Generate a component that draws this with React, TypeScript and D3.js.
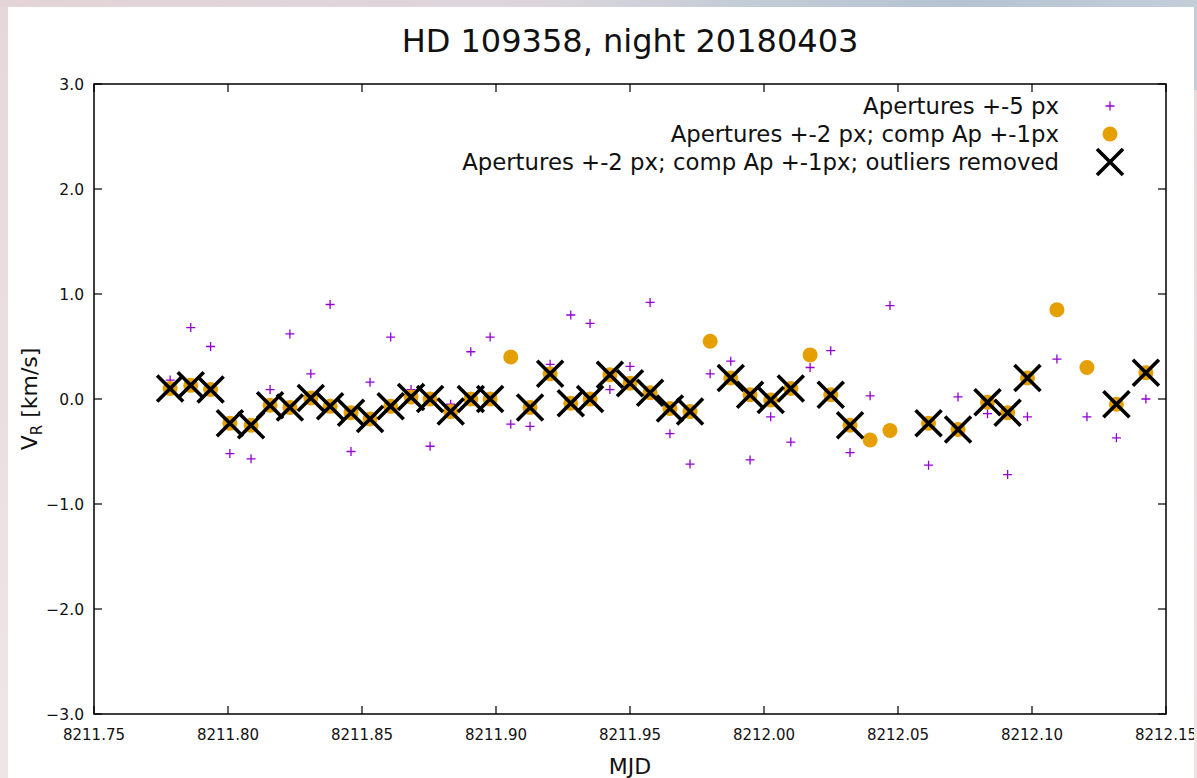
import React from "react";
import * as d3 from "d3";

// ---- data ----
const mjd = [
  8211.7784, 8211.7861, 8211.7935, 8211.8007, 8211.8086, 8211.8157, 8211.8231, 8211.8309,
  8211.8381, 8211.8459, 8211.853, 8211.8607, 8211.8683, 8211.8754, 8211.8831, 8211.8906,
  8211.8978, 8211.9055, 8211.9127, 8211.9202, 8211.9279, 8211.9351, 8211.9425, 8211.95,
  8211.9575, 8211.9649, 8211.9724, 8211.9799, 8211.9876, 8211.9948, 8212.0025, 8212.01,
  8212.0172, 8212.0249, 8212.0321, 8212.0396, 8212.047, 8212.0614, 8212.0724, 8212.0834,
  8212.0909, 8212.0983, 8212.1093, 8212.1205, 8212.1315, 8212.1425,
];

// Apertures +-5 px
const vAp5 = [
  0.18, 0.68, 0.5, -0.52, -0.57, 0.09, 0.62, 0.24, 0.9, -0.5, 0.16, 0.59, 0.09, -0.45, -0.05, 0.45,
  0.59, -0.24, -0.26, 0.33, 0.8, 0.72, 0.09, 0.31, 0.92, -0.33, -0.62, 0.24, 0.36, -0.58, -0.17, -0.41,
  0.3, 0.46, -0.51, 0.03, 0.89, -0.63, 0.02, -0.14, -0.72, -0.17, 0.38, -0.17, -0.37, 0.0,
];

// Apertures +-2 px; comp Ap +-1px
const vAp2 = [
  0.1, 0.13, 0.09, -0.23, -0.25, -0.06, -0.08, 0.01, -0.07, -0.13, -0.19, -0.07, 0.02, 0.0, -0.12, 0.0,
  0.0, 0.4, -0.08, 0.24, -0.04, 0.0, 0.23, 0.15, 0.06, -0.09, -0.12, 0.55, 0.2, 0.04, -0.01, 0.1,
  0.42, 0.04, -0.25, -0.39, -0.3, -0.23, -0.29, -0.03, -0.13, 0.2, 0.85, 0.3, -0.05, 0.25,
];

// indices of points removed as outliers
const outlierIdx = [17, 27, 32, 35, 36, 42, 43];

const xTicks = [8211.75, 8211.8, 8211.85, 8211.9, 8211.95, 8212.0, 8212.05, 8212.1, 8212.15];
const yTicks = [-3, -2, -1, 0, 1, 2, 3];

const legendLabels = [
  "Apertures +-5 px",
  "Apertures +-2 px; comp Ap +-1px",
  "Apertures +-2 px; comp Ap +-1px; outliers removed",
];

const titleText = "HD 109358, night 20180403";

// ---- chart ----
const W = 1197;
const H = 778;
const FONT = "'DejaVu Sans', sans-serif";
const PURPLE = "#9400d3";
const GOLD = "#e69f00";

export default function App() {
  const left = 94, right = 1166, top = 84, bottom = 714;
  const x = d3.scaleLinear().domain([8211.75, 8212.15]).range([left, right]);
  const y = d3.scaleLinear().domain([-3, 3]).range([bottom, top]);
  const tick = 8;

  const clean = mjd
    .map((m, i) => ({ m, v: vAp2[i], i }))
    .filter((d) => !outlierIdx.includes(d.i));

  const plus = (cx: number, cy: number, s: number, key: any) => (
    <path key={key} d={`M${cx - s},${cy}H${cx + s}M${cx},${cy - s}V${cy + s}`} stroke={PURPLE} strokeWidth={1.3} fill="none" />
  );
  const cross = (cx: number, cy: number, s: number, key: any) => (
    <path key={key} d={`M${cx - s},${cy - s}L${cx + s},${cy + s}M${cx - s},${cy + s}L${cx + s},${cy - s}`} stroke="#000" strokeWidth={3.6} fill="none" />
  );

  const legX = 1110;
  const legTextX = 1059;
  const legY = [106, 134, 162];

  return (
    <svg width={W} height={H} style={{ position: "absolute", left: 0, top: 0 }} xmlns="http://www.w3.org/2000/svg">
      <defs>
        <linearGradient id="topbg" x1="0" x2="1" y1="0" y2="0">
          <stop offset="0" stopColor="#e4d4d7" />
          <stop offset="0.45" stopColor="#dcd6dc" />
          <stop offset="0.62" stopColor="#c4ccd6" />
          <stop offset="0.8" stopColor="#b5c3d1" />
          <stop offset="1" stopColor="#c3ced9" />
        </linearGradient>
        <linearGradient id="leftbg" x1="0" x2="0" y1="0" y2="1">
          <stop offset="0" stopColor="#e6d8da" />
          <stop offset="1" stopColor="#eee6e6" />
        </linearGradient>
        <clipPath id="panel">
          <rect x={8} y={7} width={1186} height={771} />
        </clipPath>
      </defs>
      <rect x={0} y={0} width={W} height={H} fill="url(#leftbg)" />
      <rect x={0} y={0} width={W} height={7} fill="url(#topbg)" />
      <rect x={1194} y={0} width={3} height={90} fill="#c3ced9" />
      <g clipPath="url(#panel)">
        <rect x={8} y={7} width={1186} height={771} fill="#fff" />

        <text x={(left + right) / 2} y={52} textAnchor="middle" fontFamily={FONT} fontSize={32} fill="#111">
          {titleText}
        </text>

        {/* ticks */}
        {xTicks.map((t, i) => (
          <g key={"xt" + i}>
            <line x1={x(t)} x2={x(t)} y1={bottom} y2={bottom - tick} stroke="#000" strokeWidth={1.2} />
            <line x1={x(t)} x2={x(t)} y1={top} y2={top + tick} stroke="#000" strokeWidth={1.2} />
            <text x={x(t)} y={740} textAnchor="middle" fontFamily={FONT} fontSize={15} fill="#111">
              {d3.format(".2f")(t)}
            </text>
          </g>
        ))}
        {yTicks.map((t, i) => (
          <g key={"yt" + i}>
            <line x1={left} x2={left + tick} y1={y(t)} y2={y(t)} stroke="#000" strokeWidth={1.2} />
            <line x1={right} x2={right - tick} y1={y(t)} y2={y(t)} stroke="#000" strokeWidth={1.2} />
            <text x={84} y={y(t)} dy="0.36em" textAnchor="end" fontFamily={FONT} fontSize={15.5} fill="#111">
              {d3.format(".1f")(t)}
            </text>
          </g>
        ))}

        {/* axis labels */}
        <text x={(left + right) / 2} y={774} textAnchor="middle" fontFamily={FONT} fontSize={22} fill="#111">
          MJD
        </text>
        <text transform={`translate(37,${y(0)}) rotate(-90)`} textAnchor="middle" fontFamily={FONT} fontSize={22} fill="#111">
          V<tspan fontSize={15} dy={5}>R</tspan>
          <tspan dy={-5}> [km/s]</tspan>
        </text>

        {/* data */}
        <g>{mjd.map((m, i) => plus(x(m), y(vAp5[i]), 4.5, "p" + i))}</g>
        <g>
          {mjd.map((m, i) => (
            <circle key={"c" + i} cx={x(m)} cy={y(vAp2[i])} r={7.5} fill={GOLD} />
          ))}
        </g>
        <g>{clean.map((d) => cross(x(d.m), y(d.v), 13, "x" + d.i))}</g>

        {/* legend */}
        {legendLabels.map((l, i) => (
          <text key={"lt" + i} x={legTextX} y={legY[i]} dy="0.36em" textAnchor="end" fontFamily={FONT} fontSize={22.8} fill="#111">
            {l}
          </text>
        ))}
        {plus(legX, legY[0], 4.5, "lp")}
        <circle cx={legX} cy={legY[1]} r={7.5} fill={GOLD} />
        {cross(legX, legY[2], 13, "lx")}

        {/* frame */}
        <rect x={left} y={top} width={right - left} height={bottom - top} fill="none" stroke="#000" strokeWidth={1.5} />
      </g>
    </svg>
  );
}
